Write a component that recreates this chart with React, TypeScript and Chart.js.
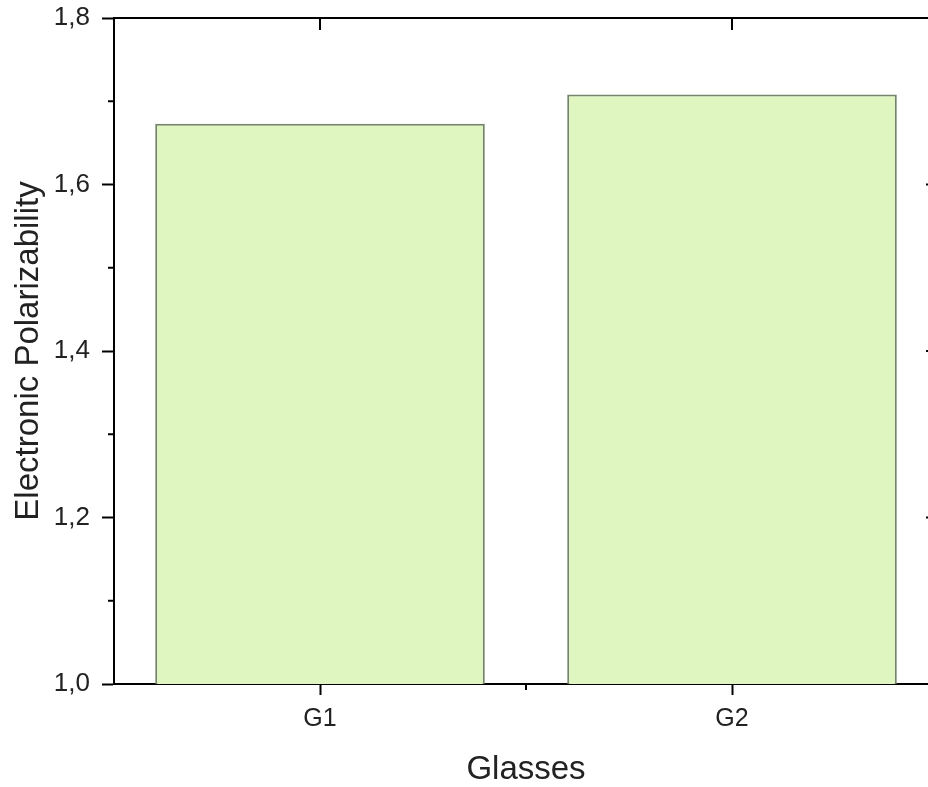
import React, { useEffect, useRef } from 'react';
import { Chart, registerables } from 'chart.js';

Chart.register(...registerables);

const categories = ['G1', 'G2'];
const polarizability = [1.673, 1.708];
const yMajorTicks = [1.0, 1.2, 1.4, 1.6, 1.8];
const yMinorTicks = [1.1, 1.3, 1.5, 1.7];
const yTitle = 'Electronic Polarizability';
const xTitle = 'Glasses';

const CANVAS_W = 960;
const CANVAS_H = 787;
const FONT = '"Liberation Sans", Arial, sans-serif';

export default function App() {
  const ref = useRef<HTMLCanvasElement>(null);

  useEffect(() => {
    const canvas = ref.current;
    if (!canvas) return;

    const framePlugin = {
      id: 'frame',
      afterDraw(chart: any) {
        const ctx = chart.ctx;
        const { left, right, top, bottom } = chart.chartArea;
        const ys = chart.scales.y;
        const xs = chart.scales.x;
        ctx.save();
        ctx.strokeStyle = '#000';
        ctx.lineWidth = 2;
        const line = (x1: number, y1: number, x2: number, y2: number) => {
          ctx.beginPath();
          ctx.moveTo(x1, y1);
          ctx.lineTo(x2, y2);
          ctx.stroke();
        };
        // top and right frame lines
        line(left - 1, top, right + 1, top);
        line(right, top, right, bottom);
        // minor y ticks (outward on left, inward on right)
        yMinorTicks.forEach((v) => {
          const p = ys.getPixelForValue(v);
          line(left - 6, p, left, p);
          line(right, p, right - 6, p);
        });
        // major inward ticks on right axis
        yMajorTicks.forEach((v) => {
          const p = ys.getPixelForValue(v);
          line(right, p, right - 12, p);
        });
        // inward ticks on top axis at category centres
        categories.forEach((_c, i) => {
          const p = xs.getPixelForValue(i);
          line(p, top, p, top + 12);
        });
        // minor ticks between categories on bottom axis
        for (let i = 0; i < categories.length - 1; i++) {
          const p = (xs.getPixelForValue(i) + xs.getPixelForValue(i + 1)) / 2;
          line(p, bottom, p, bottom + 6);
        }
        ctx.restore();
      },
    };

    const chart = new Chart(canvas, {
      type: 'bar',
      data: {
        labels: categories,
        datasets: [
          {
            data: polarizability,
            backgroundColor: '#dff6c0',
            borderColor: '#75846a',
            borderWidth: 2,
            borderSkipped: 'bottom',
            barPercentage: 0.8,
            categoryPercentage: 1.0,
          },
        ],
      },
      options: {
        responsive: false,
        animation: false,
        devicePixelRatio: 1,
        layout: { padding: { top: 18, right: 22, left: 0, bottom: 0 } },
        plugins: {
          legend: { display: false },
          tooltip: { enabled: false },
        },
        scales: {
          x: {
            type: 'category',
            offset: true,
            z: 1,
            grid: {
              offset: false,
              drawOnChartArea: false,
              drawTicks: true,
              tickLength: 11,
              tickWidth: 2,
              tickColor: '#000',
              color: '#000',
            },
            border: { display: true, width: 2, color: '#000' },
            ticks: {
              color: '#222',
              padding: 9,
              font: { family: FONT, size: 25 },
            },
            title: {
              display: true,
              text: xTitle,
              color: '#222',
              font: { family: FONT, size: 33 },
              padding: { top: 0, bottom: -3 },
            },
            afterFit(scale: any) {
              scale.height = 103;
              scale.paddingLeft = 0;
              scale.paddingRight = 0;
            },
          },
          y: {
            min: 1.0,
            max: 1.8,
            z: 1,
            grid: {
              drawOnChartArea: false,
              drawTicks: true,
              tickLength: 12,
              tickWidth: 2,
              tickColor: '#000',
              color: '#000',
            },
            border: { display: true, width: 2, color: '#000' },
            afterBuildTicks(scale: any) {
              scale.ticks = yMajorTicks.map((v) => ({ value: v }));
            },
            ticks: {
              color: '#222',
              padding: 12,
              font: { family: FONT, size: 26 },
              callback: (v: any) => Number(v).toFixed(1).replace('.', ','),
            },
            title: {
              display: true,
              text: yTitle,
              color: '#222',
              font: { family: FONT, size: 33 },
              padding: { top: 9, bottom: 0 },
            },
            afterFit(scale: any) {
              scale.width = 114;
              scale.paddingTop = 0;
              scale.paddingBottom = 0;
            },
          },
        },
      },
      plugins: [framePlugin],
    });

    return () => chart.destroy();
  }, []);

  return (
    <div
      style={{
        position: 'fixed',
        left: 0,
        top: 0,
        width: 928,
        height: 787,
        overflow: 'hidden',
        background: '#fff',
      }}
    >
      <canvas
        ref={ref}
        width={CANVAS_W}
        height={CANVAS_H}
        style={{ width: CANVAS_W, height: CANVAS_H, display: 'block' }}
      />
    </div>
  );
}
